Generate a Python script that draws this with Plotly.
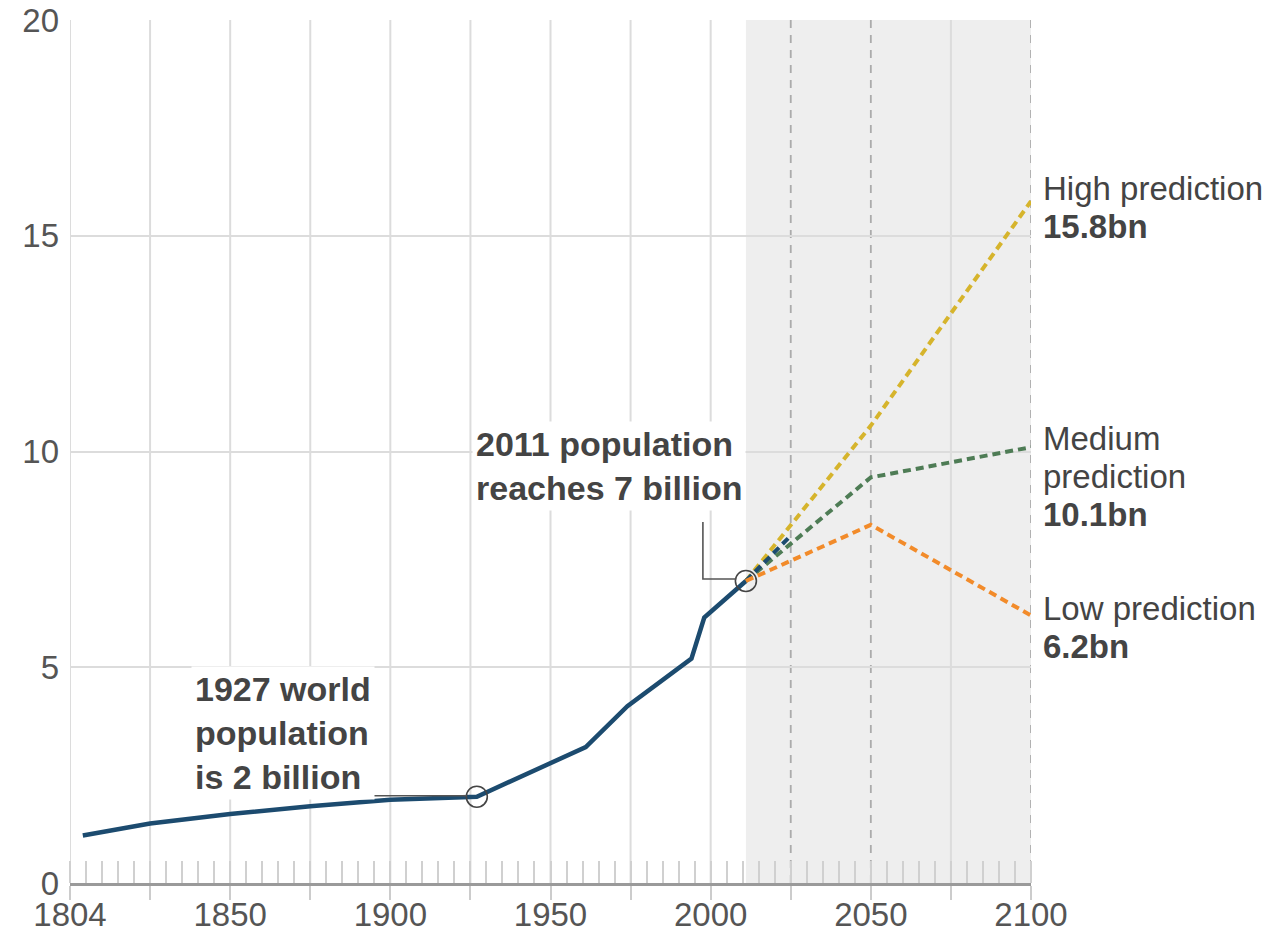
import plotly.graph_objects as go

# World population, billions
hist_years = [1804, 1825, 1850, 1875, 1900, 1927, 1961, 1974, 1994, 1998, 2011]
hist_pop = [1.1, 1.38, 1.6, 1.78, 1.93, 2.0, 3.15, 4.1, 5.2, 6.15, 7.0]

# Short near-term estimate after 2011
est_years = [2011, 2025]
est_pop = [7.0, 8.05]

# UN projection scenarios
proj_years = [2011, 2050, 2100]
high_pop = [7.0, 10.6, 15.8]
medium_pop = [7.0, 9.4, 10.1]
low_pop = [7.0, 8.3, 6.2]

# Milestones marked with circles
milestone_years = [1927, 2011]
milestone_pop = [2.0, 7.0]

# Axis ticks
x_tick_years = list(range(1800, 2101, 25))
x_tick_text = ["1804", "", "1850", "", "1900", "", "1950", "", "2000", "", "2050", "", "2100"]
y_tick_vals = [0, 5, 10, 15, 20]

solid_grid_years = [1800, 1825, 1850, 1875, 1900, 1925, 1950, 1975, 2000, 2075]
dashed_grid_years = [2025, 2050, 2100]
forecast_start, forecast_end = 2011, 2100

# Scenario end labels: lines of text, end value, vertical nudge of the first line (px)
scenario_labels = [
    (["High prediction", "<b>15.8bn</b>"], high_pop[-1], 13),
    (["Medium", "prediction", "<b>10.1bn</b>"], medium_pop[-1], 9),
    (["Low prediction", "<b>6.2bn</b>"], low_pop[-1], 7),
]

FONT = "Liberation Sans, Arial, Helvetica, sans-serif"
TEXT = "#444444"
NAVY = "#1c4b6f"
YELLOW = "#d6b42c"
GREEN = "#4e7c55"
ORANGE = "#f28b2a"
GRID = "#dcdcdc"

fig = go.Figure()

fig.add_trace(go.Scatter(x=hist_years, y=hist_pop, mode="lines",
                         line=dict(color=NAVY, width=4.5), hoverinfo="skip"))
fig.add_trace(go.Scatter(x=proj_years, y=high_pop, mode="lines",
                         line=dict(color=YELLOW, width=4, dash="8px,5px")))
fig.add_trace(go.Scatter(x=proj_years, y=medium_pop, mode="lines",
                         line=dict(color=GREEN, width=4, dash="8px,5px")))
fig.add_trace(go.Scatter(x=est_years, y=est_pop, mode="lines",
                         line=dict(color=NAVY, width=4, dash="8px,5px")))
fig.add_trace(go.Scatter(x=proj_years, y=low_pop, mode="lines",
                         line=dict(color=ORANGE, width=4, dash="8px,5px")))
fig.add_trace(go.Scatter(x=milestone_years, y=milestone_pop, mode="markers",
                         marker=dict(symbol="circle-open", size=21,
                                     color="#444444", line=dict(width=1.6))))

shapes = []
# Forecast period shading
shapes.append(dict(type="rect", xref="x", yref="paper", x0=forecast_start, x1=forecast_end,
                   y0=0, y1=1, fillcolor="#eeeeee", line=dict(width=0), layer="below"))
for yr in solid_grid_years:
    shapes.append(dict(type="line", xref="x", yref="paper", x0=yr, x1=yr, y0=0, y1=1,
                       line=dict(color=GRID, width=2), layer="below"))
for yr in dashed_grid_years:
    shapes.append(dict(type="line", xref="x", yref="paper", x0=yr, x1=yr, y0=0, y1=1,
                       line=dict(color="#ababab", width=1.8, dash="8px,7px"), layer="below"))

# Leader lines from the notes to the milestone circles (pixel offsets from each circle)
yr27, pop27 = milestone_years[0], milestone_pop[0]
yr11, pop11 = milestone_years[1], milestone_pop[1]
shapes.append(dict(type="path", xref="x", yref="y", xsizemode="pixel", ysizemode="pixel",
                   xanchor=yr27, yanchor=pop27, path="M -114 1 L -10 1",
                   line=dict(color="#555555", width=1.6)))
shapes.append(dict(type="path", xref="x", yref="y", xsizemode="pixel", ysizemode="pixel",
                   xanchor=yr11, yanchor=pop11, path="M -43 59 L -43 2 L -10 2",
                   line=dict(color="#555555", width=1.6)))

annotations = [
    dict(x=yr27, y=pop27, xref="x", yref="y", xanchor="right", yanchor="bottom",
         xshift=-102, yshift=-3, align="left", showarrow=False,
         text="<b>1927 world<br>population<br>is 2 billion</b>",
         font=dict(family=FONT, size=34, color=TEXT), bgcolor="white", borderpad=3),
    dict(x=yr11, y=pop11, xref="x", yref="y", xanchor="right", yanchor="bottom",
         xshift=0, yshift=70, align="left", showarrow=False,
         text="<b>2011 population<br>reaches 7 billion</b>",
         font=dict(family=FONT, size=34, color=TEXT), bgcolor="white", borderpad=3),
]
for lines, end_val, nudge in scenario_labels:
    for i, line in enumerate(lines):
        annotations.append(dict(x=forecast_end, y=end_val, xref="x", yref="y",
                                xanchor="left", yanchor="middle", xshift=10,
                                yshift=nudge - 38 * i, showarrow=False, align="left",
                                text=line, font=dict(family=FONT, size=33, color=TEXT)))

fig.update_layout(
    width=1273, height=932,
    margin=dict(l=70, r=242, t=20, b=49),
    plot_bgcolor="white", paper_bgcolor="white",
    showlegend=False,
    font=dict(family=FONT, size=33, color="#555555"),
    shapes=shapes, annotations=annotations,
    xaxis=dict(range=[1800, 2100], showgrid=False, zeroline=False, automargin=False,
               tickmode="array", tickvals=x_tick_years, ticktext=x_tick_text,
               ticks="outside", ticklen=14, tickwidth=2, tickcolor="#cccccc",
               minor=dict(ticks="inside", ticklen=22, tickwidth=1.5, tickcolor="#d0d0d0",
                          tickmode="linear", tick0=1800, dtick=5, showgrid=False),
               showline=True, linecolor="#9a9a9a", linewidth=3,
               ticklabelstandoff=-14,
               tickfont=dict(family=FONT, size=33, color="#555555")),
    yaxis=dict(range=[0, 20], tickvals=y_tick_vals, showgrid=True, gridcolor=GRID,
               gridwidth=2, zeroline=False, ticks="", showline=False, automargin=False,
               ticklabelstandoff=10,
               tickfont=dict(family=FONT, size=33, color="#555555")),
)

fig.write_html("out.html")
